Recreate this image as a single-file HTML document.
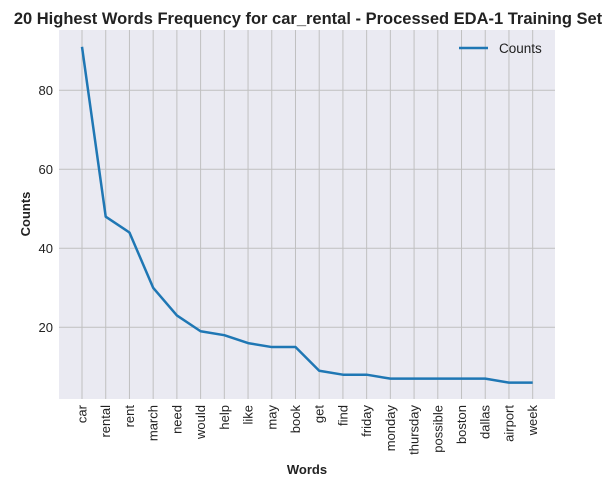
<!DOCTYPE html>
<html><head><meta charset="utf-8"><style>
body{margin:0;background:#fff;font-family:"Liberation Sans",Arial,sans-serif}
</style></head><body>
<svg id="chart" width="614" height="487" xmlns="http://www.w3.org/2000/svg" font-family="Liberation Sans, Arial, sans-serif">
<text x="308" y="24" text-anchor="middle" font-size="16.5" font-weight="bold" fill="#222">20 Highest Words Frequency for car_rental - Processed EDA-1 Training Set</text>
<rect x="59" y="30" width="496" height="369" fill="#eaeaf2"/>
<g id="grid"></g>
<g id="ticks"></g>
<path id="line" fill="none" stroke="#1f77b4" stroke-width="2.5" stroke-linejoin="round"/>
<text transform="translate(30,214) rotate(-90)" text-anchor="middle" font-size="13" font-weight="bold" fill="#222">Counts</text>
<text x="307" y="474" text-anchor="middle" font-size="13" font-weight="bold" fill="#222">Words</text>
<g>
<line x1="459" y1="48" x2="488" y2="48" stroke="#1f77b4" stroke-width="2.5"/>
<text x="499" y="53" font-size="13.5" fill="#222">Counts</text>
</g>
</svg>
<script>
const words=["car","rental","rent","march","need","would","help","like","may","book","get","find","friday","monday","thursday","possible","boston","dallas","airport","week"];
const counts=[91,48,44,30,23,19,18,16,15,15,9,8,8,7,7,7,7,7,6,6];
const yTicks=[20,40,60,80];
const ns="http://www.w3.org/2000/svg";
const L=59,R=555,T=30,B=399;
function xs(i){return 82+i*23.72;}
function ys(v){return 406.3-v*3.95;}
const grid=document.getElementById('grid'),ticks=document.getElementById('ticks');
function mk(tag,attrs,parent){const e=document.createElementNS(ns,tag);for(const k in attrs)e.setAttribute(k,attrs[k]);parent.appendChild(e);return e;}
words.forEach((w,i)=>{
  const g=mk('line',{x1:xs(i),x2:xs(i),y1:T,y2:B,stroke:'#c0c0c0','stroke-width':1},grid);
  
  
  const t=mk('text',{transform:`translate(${xs(i)+4.5},405) rotate(-90)`,'text-anchor':'end','font-size':13,fill:'#222'},ticks);
  t.textContent=w;
  
  
});
yTicks.forEach(v=>{
  const g=mk('line',{x1:L,x2:R,y1:ys(v),y2:ys(v),stroke:'#c0c0c0','stroke-width':1},grid);
  
  
  const t=mk('text',{x:53,y:ys(v)+4.5,'text-anchor':'end','font-size':13,fill:'#222'},ticks);
  t.textContent=v;
  
  
});
document.getElementById('line').setAttribute('d',counts.map((v,i)=>(i?'L':'M')+xs(i)+','+ys(v)).join(''));
</script>
</body></html>
